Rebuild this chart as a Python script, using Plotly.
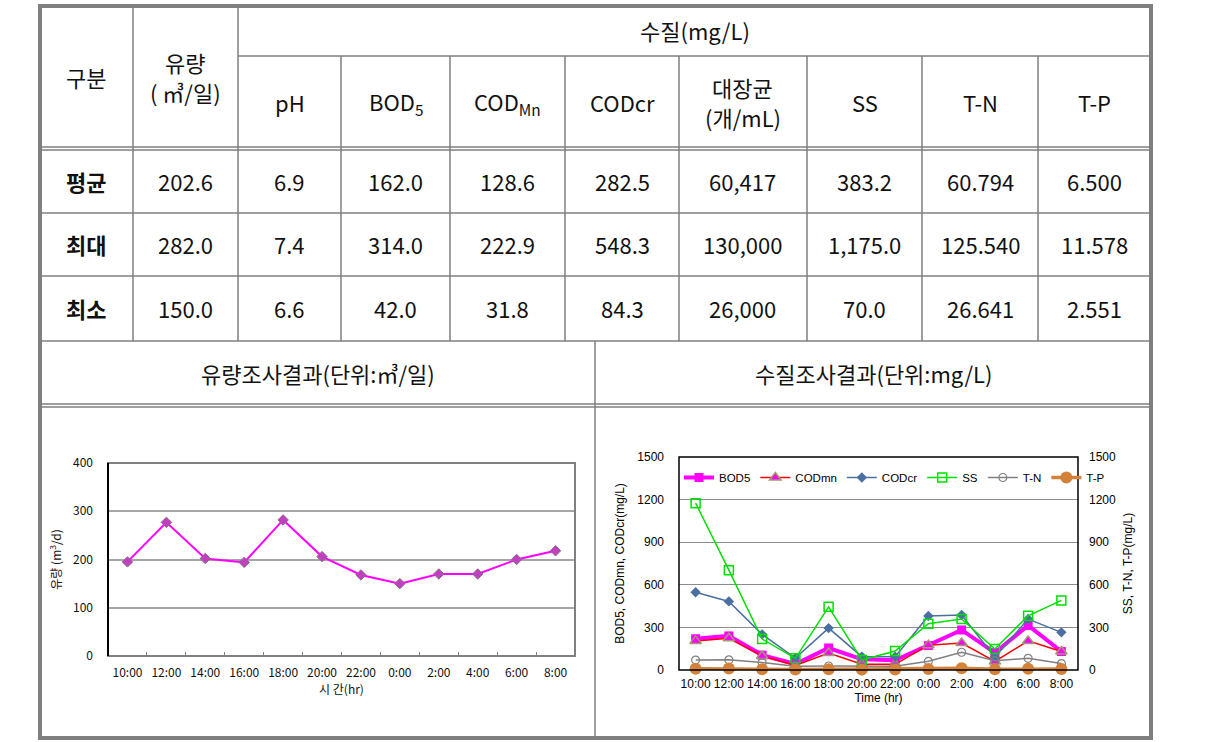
import plotly.graph_objects as go

W, H = 1208, 742

# ---- table data ----
row_labels = ['평균', '최대', '최소']
avg_vals = ['202.6', '6.9', '162.0', '128.6', '282.5', '60,417', '383.2', '60.794', '6.500']
max_vals = ['282.0', '7.4', '314.0', '222.9', '548.3', '130,000', '1,175.0', '125.540', '11.578']
min_vals = ['150.0', '6.6', '42.0', '31.8', '84.3', '26,000', '70.0', '26.641', '2.551']
quality_cols = ['pH', 'BOD<sub>5</sub>', 'COD<sub>Mn</sub>', 'CODcr', '대장균<br>(개/mL)', 'SS', 'T-N', 'T-P']

# ---- chart data ----
times = ['10:00', '12:00', '14:00', '16:00', '18:00', '20:00', '22:00',
         '0:00', '2:00', '4:00', '6:00', '8:00']
flow = [195, 277, 202, 194, 282, 206, 168, 150, 170, 170, 200, 218]
bod5 = [220, 240, 105, 42, 155, 75, 68, 172, 282, 122, 314, 130]
codmn = [205, 223, 98, 32, 120, 40, 40, 175, 190, 60, 205, 130]
codcr = [548, 483, 251, 84, 295, 94, 94, 380, 387, 90, 359, 265]
ss = [1175, 703, 218, 82, 445, 70, 134, 326, 359, 148, 382, 490]
tn = [70, 72, 52, 27, 28, 27, 27, 61, 125, 66, 82, 45]
tp = [8, 10, 6, 3, 5, 2.6, 3, 7, 11.6, 5, 9, 7]


def X(x):
    return x / W


def Y(y):
    return 1 - y / H


GRID = '#7f7f7f'
KFONT = 'Noto Sans CJK KR'
shapes = []
annotations = []


def line(x0, y0, x1, y1, width=1.5, color=GRID):
    shapes.append(dict(type='line', xref='paper', yref='paper',
                       x0=X(x0), y0=Y(y0), x1=X(x1), y1=Y(y1),
                       line=dict(color=color, width=width)))


def text(x, y, s, size=22, color='#111', family=KFONT):
    annotations.append(dict(xref='paper', yref='paper', x=X(x), y=Y(y), text=s,
                            showarrow=False, xanchor='center', yanchor='middle',
                            font=dict(family=family, size=size, color=color)))


def two_line(x, y, s, gap=30):
    top, bottom = s.split('<br>')
    text(x, y - gap / 2, top)
    text(x, y + gap / 2, bottom)


col_edges = [40, 133, 238, 341, 450, 565, 679, 807, 922, 1038, 1151]
row_mid = [181, 244, 308]

# table grid
line(238, 56, 1151, 56)
for yy in (147, 150, 404, 407):
    line(40, yy, 1151, yy)
for yy in (213, 276, 341):
    line(40, yy, 1151, yy)
for xx in col_edges[1:3]:
    line(xx, 6, xx, 341)
for xx in col_edges[3:-1]:
    line(xx, 56, xx, 341)
line(595, 341, 595, 738)
# thick outer border
shapes.append(dict(type='rect', xref='paper', yref='paper', x0=X(40), y0=Y(738),
                   x1=X(1151), y1=Y(6), line=dict(color=GRID, width=4)))

# header text
text(86, 77, '구분')
two_line(185, 77, '유량<br>( ㎥/일)')
text((238 + 1151) / 2, 30, '수질(mg/L)')
for i, c in enumerate(quality_cols):
    cx = (col_edges[i + 2] + col_edges[i + 3]) / 2
    if '<br>' in c:
        two_line(cx, 102, c)
    else:
        text(cx, 102, c)

for r, (lab, vals) in enumerate(zip(row_labels, [avg_vals, max_vals, min_vals])):
    text(86, row_mid[r], '<b>' + lab + '</b>')
    for i, v in enumerate(vals):
        cx = (col_edges[i + 1] + col_edges[i + 2]) / 2
        text(cx, row_mid[r], v)

text(318, 373, '유량조사결과(단위:㎥/일)')
text(873, 373, '수질조사결과(단위:mg/L)')

fig = go.Figure()

# ---- left chart: flow ----
fig.add_trace(go.Scatter(
    x=times, y=flow, mode='lines+markers', xaxis='x', yaxis='y', showlegend=False,
    line=dict(color='#ff00ff', width=2),
    marker=dict(symbol='diamond', size=8, color='#c040c0', line=dict(color='#8a6a8a', width=1))))

# ---- right chart: water quality ----
q_series = [
    ('BOD5', bod5, 'y2', dict(color='#ff00ff', width=4), dict(symbol='square', size=9, color='#ff00ff')),
    ('CODmn', codmn, 'y2', dict(color='#ff0000', width=1.5),
     dict(symbol='triangle-up', size=10, color='#ff00ff', line=dict(color='#a09a70', width=1.5))),
    ('CODcr', codcr, 'y2', dict(color='#4a6fa0', width=1.5), dict(symbol='diamond', size=8, color='#4a6fa0')),
    ('SS', ss, 'y3', dict(color='#00e000', width=1.5),
     dict(symbol='square-open', size=9, color='#00e000', line=dict(width=1.5))),
    ('T-N', tn, 'y3', dict(color='#808080', width=1.5),
     dict(symbol='circle-open', size=8, color='#808080', line=dict(width=1.2))),
    ('T-P', tp, 'y3', dict(color='#d4813a', width=3.5), dict(symbol='circle', size=12, color='#d4813a')),
]
for name, vals, ax, ln, mk in q_series:
    fig.add_trace(go.Scatter(x=times, y=vals, name=name, mode='lines+markers',
                             xaxis='x2', yaxis=ax, line=ln, marker=mk, cliponaxis=False))

# left plot frame
shapes.append(dict(type='rect', xref='x domain', yref='y domain', x0=0, y0=0, x1=1, y1=1,
                   line=dict(color='#808080', width=2), layer='above'))
shapes.append(dict(type='line', xref='x domain', yref='y domain', x0=0, y0=0, x1=0, y1=1,
                   line=dict(color='#000', width=2), layer='above'))
# right plot frame
shapes.append(dict(type='rect', xref='x2 domain', yref='y2 domain', x0=0, y0=0, x1=1, y1=1,
                   line=dict(color='#000', width=1.5), layer='above'))

tick_font_l = dict(family=KFONT, size=12, color='#111')
tick_font_r = dict(family='Liberation Sans', size=12, color='#000')

fig.update_layout(
    width=W, height=H, margin=dict(l=0, r=0, t=0, b=0, pad=0, autoexpand=False),
    paper_bgcolor='white', plot_bgcolor='white',
    shapes=shapes, annotations=annotations,
    xaxis=dict(domain=[X(108), X(575)], type='category', range=[-0.5, 11.5], automargin=False,
               showgrid=False, ticks='inside', ticklen=4, tickcolor='#808080', tickangle=0,
               tickson='boundaries', tickfont=tick_font_l, ticklabelstandoff=8,
               title=dict(text='시 간(hr)', font=dict(family=KFONT, size=12, color='#111'), standoff=6),
               anchor='y'),
    yaxis=dict(domain=[Y(656), Y(463)], range=[0, 400], dtick=100, automargin=False,
               showgrid=True, gridcolor='#a6a6a6', gridwidth=1.5, zeroline=False,
               tickfont=tick_font_l, ticklabelstandoff=14,
               title=dict(text='유량 (m<sup>3</sup>/d)', font=dict(family=KFONT, size=12, color='#111'),
                          standoff=8),
               anchor='x'),
    xaxis2=dict(domain=[X(679), X(1078)], type='category', range=[-0.5, 11.5], automargin=False,
                showgrid=False, ticks='', tickfont=tick_font_r, tickangle=0, ticklabelstandoff=5,
                title=dict(text='Time (hr)', font=dict(family='Liberation Sans', size=12, color='#000'),
                           standoff=2),
                anchor='y2'),
    yaxis2=dict(domain=[Y(670), Y(457)], range=[0, 1500], dtick=300, automargin=False,
                showgrid=True, gridcolor='#8c8c8c', gridwidth=1, zeroline=False,
                tickfont=tick_font_r, ticklabelstandoff=14,
                title=dict(text='BOD5, CODmn, CODcr(mg/L)',
                           font=dict(family='Liberation Sans', size=12, color='#000'), standoff=10),
                anchor='x2'),
    yaxis3=dict(range=[0, 1500], dtick=300, overlaying='y2', side='right', anchor='x2',
                automargin=False, showgrid=False, zeroline=False, tickfont=tick_font_r,
                ticklabelstandoff=10,
                title=dict(text='SS, T-N, T-P(mg/L)',
                           font=dict(family='Liberation Sans', size=12, color='#000'), standoff=8)),
    legend=dict(orientation='h', x=X(679), y=Y(463), xanchor='left', yanchor='top',
                bgcolor='rgba(0,0,0,0)', font=dict(family='Liberation Sans', size=11.5, color='#000'),
                itemwidth=30, tracegroupgap=0),
)

fig.write_html('out.html', config={'displayModeBar': False},
               post_script="document.body.style.margin='0';")
